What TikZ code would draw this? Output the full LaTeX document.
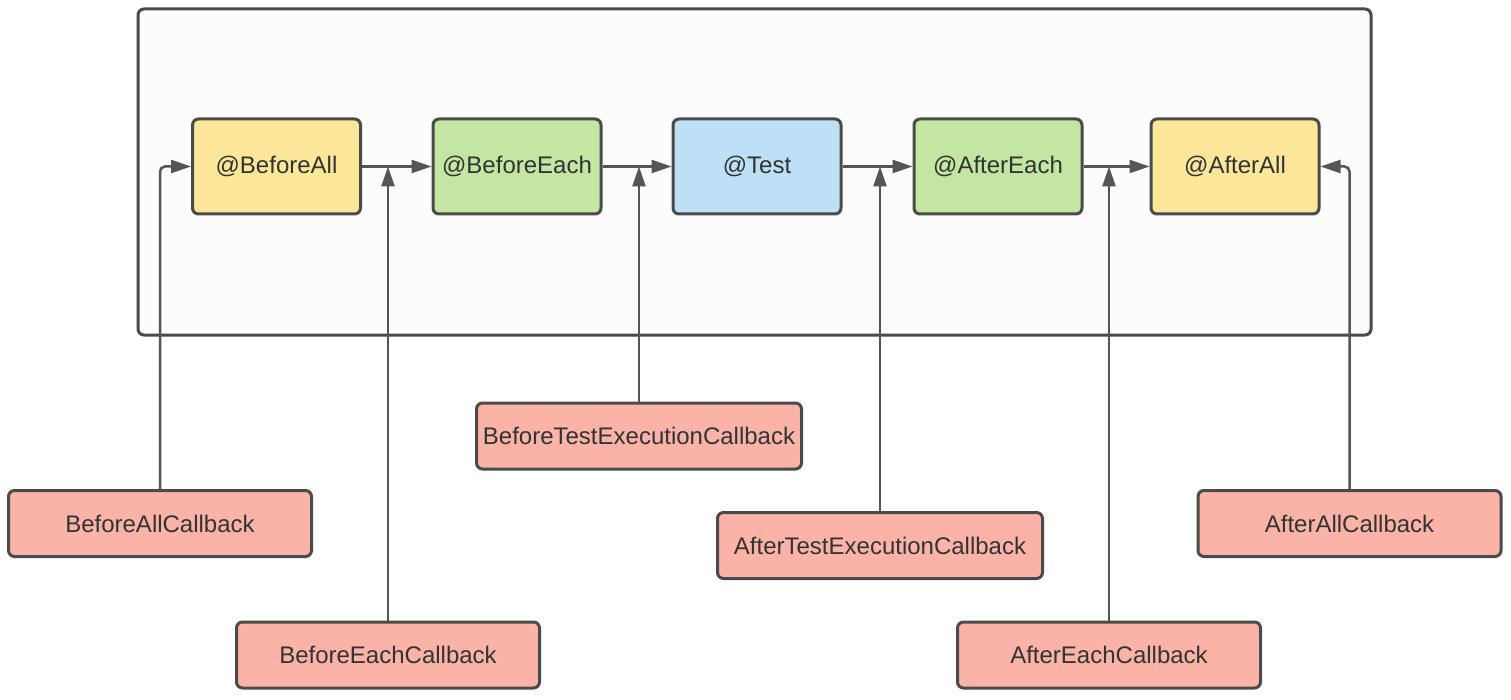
\documentclass[tikz,border=0pt]{standalone}
\usepackage{fontspec}
\setmainfont{Liberation Sans}
\usetikzlibrary{arrows.meta}
\definecolor{edge}{HTML}{4A4A4A}
\definecolor{conn}{HTML}{555555}
\definecolor{txt}{HTML}{333333}
\definecolor{yel}{HTML}{FCE699}
\definecolor{grn}{HTML}{C3E6A2}
\definecolor{blu}{HTML}{BDE0F7}
\definecolor{sal}{HTML}{FBB3A7}
\tikzset{
  box/.style={draw=edge, line width=3pt, rounded corners=6pt, minimum height=95pt,
    minimum width=168pt, text=txt, font=\fontsize{24}{28}\selectfont, inner sep=0pt},
  cbbox/.style={draw=edge, line width=3pt, rounded corners=6pt, fill=sal, minimum height=66pt,
    minimum width=303pt, text=txt, font=\fontsize{24}{28}\selectfont, inner sep=0pt},
  flow/.style={draw=conn, line width=2.5pt, -{Triangle[length=20pt,width=13pt]}},
}
\begin{document}
\begin{tikzpicture}[x=1pt,y=-1pt]
\useasboundingbox (0,0) rectangle (1511,700);
\fill[white] (0,0) rectangle (1511,700);
\draw[edge, line width=3pt, rounded corners=6pt, fill=white!99!black] (138,9) rectangle (1371,335);

\node[box, fill=yel] (ba) at (276.5,166.5) {@BeforeAll};
\node[box, fill=grn] (be) at (517,166.5) {@BeforeEach};
\node[box, fill=blu] (ts) at (757,166.5) {@Test};
\node[box, fill=grn] (ae) at (998,166.5) {@AfterEach};
\node[box, fill=yel] (aa) at (1235,166.5) {@AfterAll};

\node[cbbox] (bac) at (160,523.5) {BeforeAllCallback};
\node[cbbox] (bec) at (388,655) {BeforeEachCallback};
\node[cbbox, minimum width=325pt] (btec) at (639,436) {BeforeTestExecutionCallback};
\node[cbbox, minimum width=325pt] (atec) at (880,545.5) {AfterTestExecutionCallback};
\node[cbbox] (aec) at (1109,655) {AfterEachCallback};
\node[cbbox] (aac) at (1349.5,523.5) {AfterAllCallback};

\draw[flow] (ba) -- (be);
\draw[flow] (be) -- (ts);
\draw[flow] (ts) -- (ae);
\draw[flow] (ae) -- (aa);

\draw[flow, rounded corners=5pt] (bac.north) |- (ba.west);
\draw[flow, rounded corners=5pt] (aac.north) |- (aa.east);
\draw[flow] (bec.north) -- (bec.north |- ba.east);
\draw[flow] (btec.north) -- (btec.north |- ba.east);
\draw[flow] (atec.north) -- (atec.north |- ba.east);
\draw[flow] (aec.north) -- (aec.north |- ba.east);
\end{tikzpicture}
\end{document}
